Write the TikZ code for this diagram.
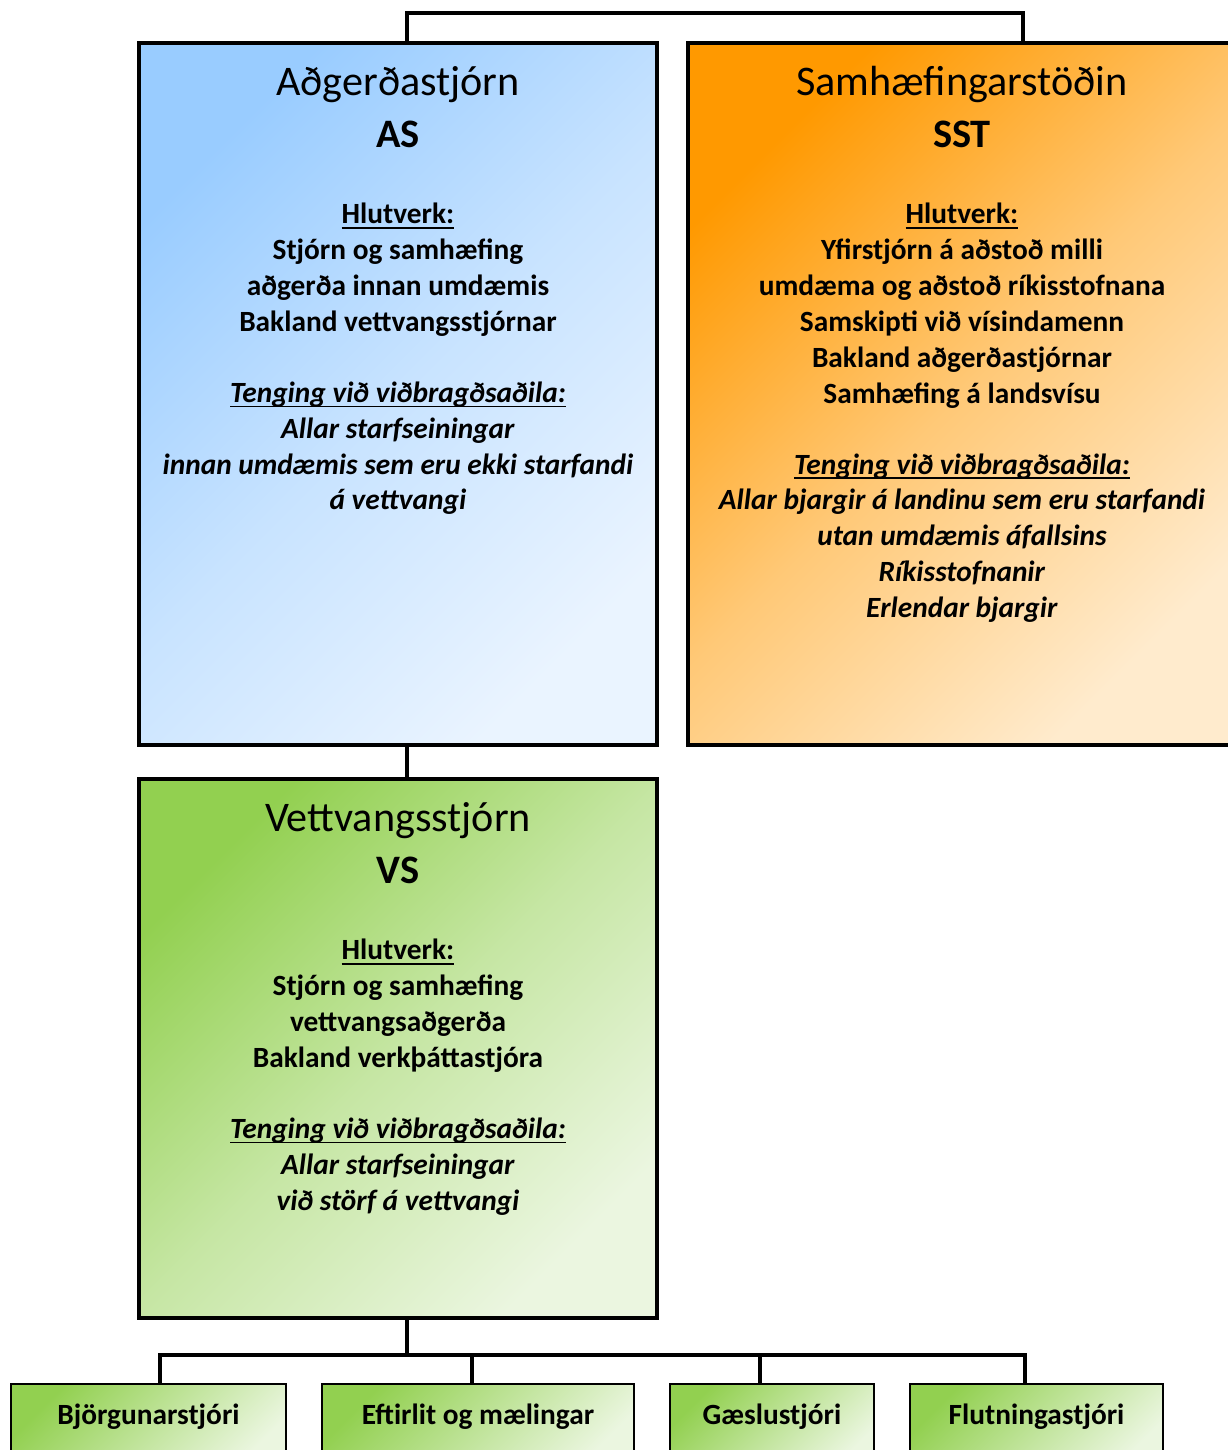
\documentclass[tikz,border=0pt]{standalone}
\usepackage{fontspec}
\setmainfont{Carlito}
\usepackage{xcolor}
\usetikzlibrary{positioning,calc}

\definecolor{asTop}{HTML}{99CCFF}
\definecolor{asBot}{HTML}{EAF4FF}
\definecolor{sstTop}{HTML}{FF9900}
\definecolor{sstBot}{HTML}{FFEBCD}
\definecolor{vsTop}{HTML}{92D050}
\definecolor{vsBot}{HTML}{EBF6E0}

\newcommand{\titlefont}{\fontsize{24}{28}\selectfont}
\newcommand{\abbrfont}{\fontsize{23}{28}\selectfont\bfseries}
\newcommand{\bodyfont}{\fontsize{16.7}{20.4}\selectfont\bfseries}
% underline drawn just below the baseline
\newcommand{\uln}[1]{\setbox0\hbox{#1}\rlap{\rule[-2.6pt]{\wd0}{0.8pt}}\box0}

\begin{document}
\begin{tikzpicture}[x=0.02cm, y=-0.02cm]
    % Define styles
    \tikzstyle{box} = [rectangle, draw, line width=2.3pt, inner sep=0pt]
    \tikzstyle{asbox} = [box, top color=asTop, bottom color=asBot, middle color=asTop!42!asBot, shading angle=45, minimum width=10.36cm, minimum height=14.04cm]
    \tikzstyle{sstbox} = [box, top color=sstTop, bottom color=sstBot, middle color=sstTop!42!sstBot, shading angle=45, minimum width=10.96cm, minimum height=14.04cm]
    \tikzstyle{vsbox} = [box, top color=vsTop, bottom color=vsBot, middle color=vsTop!42!vsBot, shading angle=45, minimum width=10.36cm, minimum height=10.78cm]
    \tikzstyle{unit} = [rectangle, draw, line width=1.1pt, top color=vsTop, bottom color=vsBot, shading angle=45, font=\bodyfont, anchor=north, inner ysep=0pt, text height=22pt, text depth=25pt, minimum height=1.74cm]
    \tikzstyle{title} = [font=\titlefont, anchor=base, inner sep=0pt]
    \tikzstyle{abbr} = [font=\abbrfont, anchor=base, inner sep=0pt]
    \tikzstyle{body} = [font=\bodyfont, align=center, anchor=north, inner sep=0pt]
    \tikzstyle{link} = [draw, line width=2pt]

    \useasboundingbox (0,0) rectangle (1227,1450);

    % Place nodes
    \node [asbox] (as) at (398,394) {};
    \node [sstbox] (sst) at (962,394) {};
    \node [vsbox] (vs) at (398,1048.5) {};

    \node [title] (as-title) at (398,95) {Aðgerðastjórn};
    \node [abbr] (as-abbr) at (398,147) {AS};
    \node [body] (as-text) at (398,203) {%
        \uln{Hlutverk:}\\
        Stjórn og samhæfing\\
        aðgerða innan umdæmis\\
        Bakland vettvangsstjórnar\\[20pt]
        \textit{\uln{Tenging við viðbragðsaðila:}}\\
        \textit{Allar starfseiningar}\\
        \textit{innan umdæmis sem eru ekki starfandi}\\
        \textit{á vettvangi}};

    \node [title] (sst-title) at (962,95) {Samhæfingarstöðin};
    \node [abbr] (sst-abbr) at (962,147) {SST};
    \node [body] (sst-text) at (962,203) {%
        \uln{Hlutverk:}\\
        Yfirstjórn á aðstoð milli\\
        umdæma og aðstoð ríkisstofnana\\
        Samskipti við vísindamenn\\
        Bakland aðgerðastjórnar\\
        Samhæfing á landsvísu\\[20pt]
        \textit{\uln{Tenging við viðbragðsaðila:}}\\
        \textit{Allar bjargir á landinu sem eru starfandi}\\
        \textit{utan umdæmis áfallsins}\\
        \textit{Ríkisstofnanir}\\
        \textit{Erlendar bjargir}};

    \node [title] (vs-title) at (398,831) {Vettvangsstjórn};
    \node [abbr] (vs-abbr) at (398,883) {VS};
    \node [body] (vs-text) at (398,939) {%
        \uln{Hlutverk:}\\
        Stjórn og samhæfing\\
        vettvangsaðgerða\\
        Bakland verkþáttastjóra\\[20pt]
        \textit{\uln{Tenging við viðbragðsaðila:}}\\
        \textit{Allar starfseiningar}\\
        \textit{við störf á vettvangi}};

    \node [unit, minimum width=5.5cm] (bj) at (148.5,1383) {Björgunarstjóri};
    \node [unit, minimum width=6.24cm] (ef) at (478,1383) {Eftirlit og mælingar};
    \node [unit, minimum width=4.08cm] (gs) at (772,1383) {Gæslustjóri};
    \node [unit, minimum width=5.06cm] (fl) at (1036.5,1383) {Flutningastjóri};

    % Draw edges
    \coordinate (top-left) at (407,13);
    \coordinate (top-right) at (1023,13);
    \path [link] (as.north -| top-left) -- (top-left) -- (top-right) -- (sst.north -| top-right);
    \path [link] (as.south -| top-left) -- (vs.north -| top-left);

    \coordinate (bus) at (407,1355);
    \coordinate (bus-bj) at (160,1355);
    \coordinate (bus-ef) at (472,1355);
    \coordinate (bus-gs) at (760,1355);
    \coordinate (bus-fl) at (1025,1355);
    \path [link] (vs.south -| bus) -- (bus);
    \path [link] (bj.north -| bus-bj) -- (bus-bj) -- (bus-fl) -- (fl.north -| bus-fl);
    \path [link] (bus-ef) -- (ef.north -| bus-ef);
    \path [link] (bus-gs) -- (gs.north -| bus-gs);
\end{tikzpicture}
\end{document}
